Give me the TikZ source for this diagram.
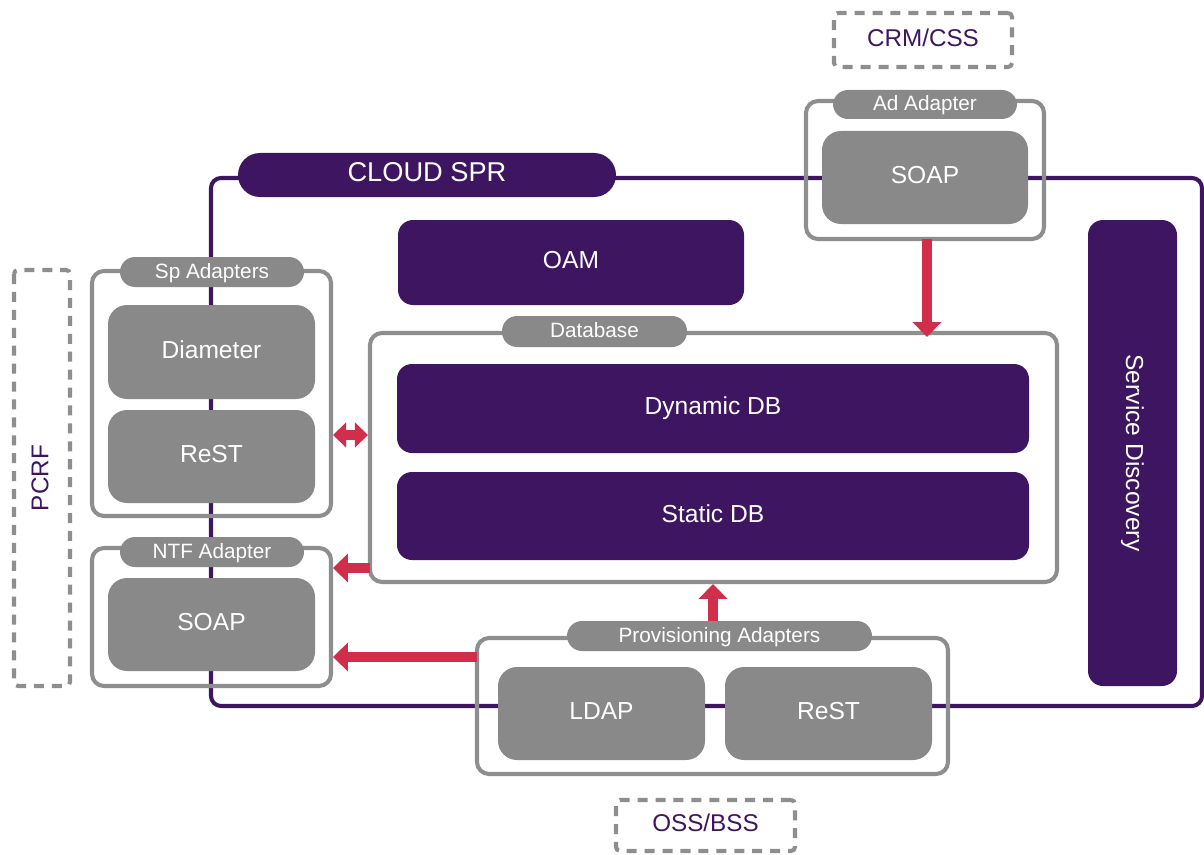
\documentclass[tikz,border=0pt]{standalone}
\usepackage{fontspec}
\setmainfont{Liberation Sans}
\usetikzlibrary{arrows.meta}
\definecolor{spr}{HTML}{3E1561}
\definecolor{gbox}{HTML}{898989}
\definecolor{gline}{HTML}{8E8E8E}
\definecolor{arr}{HTML}{D02E4A}
% \bx{name}{x1}{y1}{x2}{y2}{style}{text}
\newcommand{\bx}[7]{\node[#6, minimum width={(#4-#2)*0.02cm}, minimum height={(#5-#3)*0.02cm}] (#1) at ({(#2+#4)/2},{(#3+#5)/2}) {#7};}
\newcommand{\rbx}[7]{\node[#6, minimum height={(#4-#2)*0.02cm}, minimum width={(#5-#3)*0.02cm}] (#1) at ({(#2+#4)/2},{(#3+#5)/2}) {#7};}
\begin{document}
\begin{tikzpicture}[x=0.02cm,y=-0.02cm,
  every node/.style={inner sep=0pt, outer sep=0pt, text height=0.72em, text depth=0pt},
  frame/.style={draw=spr, line width=2.3pt, rounded corners=0.2cm},
  sprpill/.style={fill=spr, rounded corners=0.44cm, text=white, font=\fontsize{15.5}{18}\selectfont},
  gbx/.style={fill=gbox, rounded corners=0.38cm, text=white, font=\fontsize{14}{16}\selectfont},
  pbx/.style={fill=spr, rounded corners=0.3cm, text=white, font=\fontsize{14}{16}\selectfont},
  grp/.style={draw=gline, line width=2.3pt, rounded corners=0.24cm},
  pill/.style={fill=gbox, rounded corners=0.3cm, text=white, font=\fontsize{11.8}{14}\selectfont},
  ext/.style={draw=gline, line width=2.3pt, dash pattern=on 5.7pt off 4.5pt, rounded corners=0.08cm, text=spr, font=\fontsize{13.8}{16}\selectfont},
  redarrow/.style={draw=arr, line width=5.5pt, -{Triangle[length=8.5pt,width=16pt]}},
  reddouble/.style={draw=arr, line width=5.5pt, {Triangle[length=7.5pt,width=14pt]}-{Triangle[length=7.5pt,width=14pt]}}
]
\useasboundingbox (0,0) rectangle (1204,855);

% Cloud SPR frame
\bx{sprframe}{211}{178}{1202}{706}{frame}{}

% groups
\bx{spgrp}{92}{271}{331}{516}{grp}{}
\bx{ntfgrp}{92}{548}{331}{686}{grp}{}
\bx{adgrp}{806}{101}{1044}{239}{grp}{}
\bx{dbgrp}{370}{333}{1057}{582}{grp}{}
\bx{provgrp}{477}{638}{948}{774}{grp}{}

% CLOUD SPR label
\bx{sprlabel}{238}{153}{616}{197}{sprpill}{CLOUD SPR}

% purple boxes
\bx{oam}{398}{220}{744}{305}{pbx}{OAM}
\bx{dyn}{397}{364}{1029}{453}{pbx}{Dynamic DB}
\bx{stat}{397}{472}{1029}{560}{pbx}{Static DB}
\rbx{sd}{1088}{220}{1177}{686}{pbx, rotate=-90, rounded corners=0.3cm}{Service Discovery}

% gray boxes
\bx{diam}{108}{305}{315}{399}{gbx}{Diameter}
\bx{rest1}{108}{410}{315}{503}{gbx}{ReST}
\bx{soap1}{108}{578}{315}{671}{gbx}{SOAP}
\bx{soap2}{822}{131}{1028}{224}{gbx}{SOAP}
\bx{ldap}{498}{667}{705}{760}{gbx}{LDAP}
\bx{rest2}{725}{667}{932}{760}{gbx}{ReST}

% group label pills
\bx{sppill}{120}{257}{304}{287}{pill}{Sp Adapters}
\bx{ntfpill}{120}{537}{304}{567}{pill}{NTF Adapter}
\bx{adpill}{833}{90}{1017}{119}{pill}{Ad Adapter}
\bx{dbpill}{502}{316}{687}{347}{pill}{Database}
\bx{provpill}{567}{621}{872}{651}{pill}{Provisioning Adapters}

% external systems
\bx{crm}{834}{13}{1012}{67}{ext}{CRM/CSS}
\bx{oss}{616}{800}{795}{851}{ext}{OSS/BSS}
\rbx{pcrf}{14}{270}{70}{686}{ext, rotate=90}{PCRF}

% arrows
\coordinate (ca) at (927,0);
\coordinate (cd) at (0,435);
\coordinate (cn) at (0,568);
\coordinate (cp) at (0,657);
\coordinate (cu) at (713,0);
\draw[redarrow] (adgrp.south -| ca) -- ([yshift=-0.08cm]dbgrp.north -| ca);
\draw[reddouble] ([xshift=0.04cm]spgrp.east |- cd) -- ([xshift=-0.04cm]dbgrp.west |- cd);
\draw[redarrow] (dbgrp.west |- cn) -- ([xshift=0.04cm]ntfgrp.east |- cn);
\draw[redarrow] (provgrp.west |- cp) -- ([xshift=0.04cm]ntfgrp.east |- cp);
\draw[redarrow] (provpill.north -| cu) -- ([yshift=-0.04cm]dbgrp.south -| cu);
\end{tikzpicture}
\end{document}
